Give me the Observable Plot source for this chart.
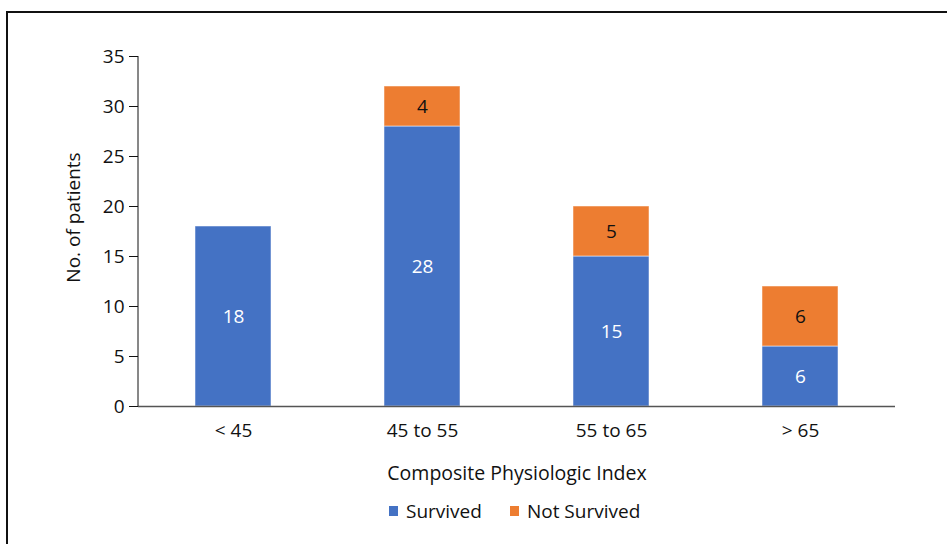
<!DOCTYPE html>
<html><head><meta charset="utf-8">
<script src="https://cdn.jsdelivr.net/npm/d3@7"></script>
<script src="https://cdn.jsdelivr.net/npm/@observablehq/plot@0.6"></script>
<style>
html,body{margin:0;padding:0;background:#fff;overflow:hidden;width:947px;height:544px}
#frame{position:absolute;left:6px;top:11px;width:1000px;height:1000px;border-top:2px solid #111;border-left:2px solid #111;box-sizing:border-box}
#chart{position:absolute;left:0;top:0}
#legend{position:absolute;left:389px;top:501px;display:flex;align-items:center;font-family:"Open Sans";font-size:19px;line-height:20px;color:#111;white-space:nowrap}
.sw{display:inline-block;width:9px;height:10px;margin-right:8px}
.item{display:flex;align-items:center;margin-right:28px}
</style></head><body>
<div id="frame"></div><div id="chart"></div><div id="legend"></div>
<script>
const categories = ["< 45", "45 to 55", "55 to 65", "> 65"];
const statuses = ["Survived", "Not Survived"];
const survived = [18, 28, 15, 6];
const notSurvived = [0, 4, 5, 6];
const yTicks = [0, 5, 10, 15, 20, 25, 30, 35];
const colors = ["#4472C4", "#ED7D31"];
const labelColors = ["#ffffff", "#111111"];
const xLabel = "Composite Physiologic Index";
const yLabel = "No. of patients";

const data = [];
categories.forEach((c, i) => {
  data.push({cat: c, status: statuses[0], value: survived[i]});
  data.push({cat: c, status: statuses[1], value: notSurvived[i]});
});

function yAxisLine(index, scales, values, dims) {
  const x = dims.marginLeft;
  return d3.create("svg:line")
    .attr("x1", x).attr("x2", x)
    .attr("y1", scales.y(d3.min(yTicks))).attr("y2", scales.y(d3.max(yTicks)))
    .attr("stroke", "#111").attr("stroke-width", 1)
    .node();
}

const plot = Plot.plot({
  width: 947, height: 490,
  marginLeft: 138, marginRight: 52, marginTop: 56, marginBottom: 84,
  style: {fontFamily: "Open Sans", fontSize: "19px", color: "#111", background: "transparent"},
  x: {domain: categories, paddingInner: 0.6, paddingOuter: 0.3},
  y: {domain: [d3.min(yTicks), d3.max(yTicks)]},
  color: {domain: statuses, range: colors},
  marks: [
    Plot.barY(data, {x: "cat", y: "value", fill: "status", z: "status", stroke: "#fff", strokeOpacity: 0.5, strokeWidth: 1}),
    Plot.ruleY([0], {stroke: "#555", strokeWidth: 1.5}),
    yAxisLine,
    Plot.axisY(yTicks, {tickSize: 9, tickPadding: 5, label: null}),
    Plot.axisX({tickSize: 0, tickPadding: 17, label: null}),
    Plot.text(data, Plot.stackY({x: "cat", y: "value", z: "status",
      text: d => (d.status === statuses[0] && d.value > 0) ? String(d.value) : "", fill: labelColors[0]})),
    Plot.text(data, Plot.stackY({x: "cat", y: "value", z: "status",
      text: d => (d.status === statuses[1] && d.value > 0) ? String(d.value) : "", fill: labelColors[1]})),
    Plot.text([xLabel], {text: d => d, frameAnchor: "bottom", textAnchor: "middle", dy: 60, lineAnchor: "top", fontSize: 19.5}),
    Plot.text([yLabel], {text: d => d, frameAnchor: "left", textAnchor: "middle", dx: -65, dy: -14, rotate: -90})
  ]
});
document.getElementById("chart").appendChild(plot);

const legend = document.getElementById("legend");
statuses.forEach((s, i) => {
  const item = document.createElement("span");
  item.className = "item";
  const sw = document.createElement("span");
  sw.className = "sw";
  sw.style.background = colors[i];
  item.appendChild(sw);
  item.appendChild(document.createTextNode(s));
  legend.appendChild(item);
});
</script>
</body></html>
